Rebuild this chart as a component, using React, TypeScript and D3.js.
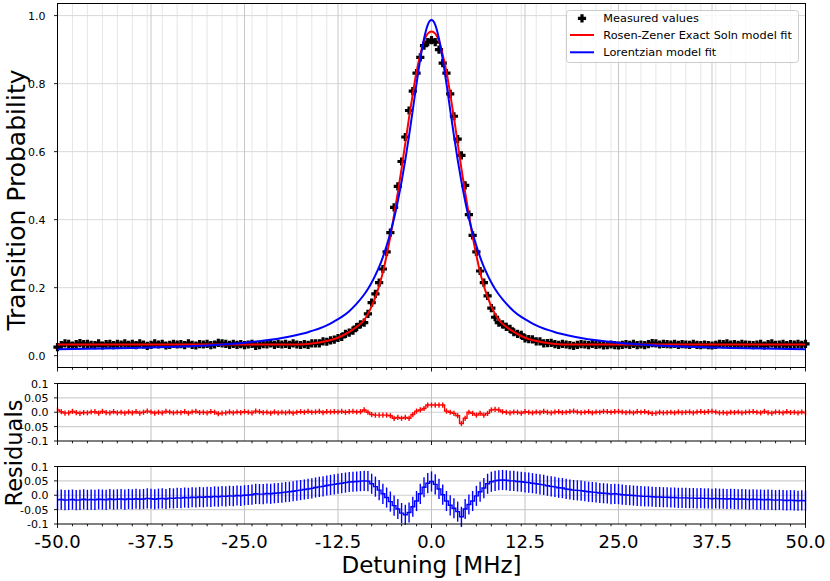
import React from 'react';
import * as d3 from 'd3';

// detuning grid of the measurement, 0.5 MHz steps from -50 to 50
const detuning = d3.range(-100, 101).map(i => i / 2);

// measured transition probability
const measured = [
  0.025, 0.031, 0.036, 0.035, 0.030, 0.034, 0.037, 0.034, 0.035, 0.032,
  0.031, 0.036, 0.030, 0.034, 0.035, 0.031, 0.035, 0.033, 0.036, 0.032,
  0.035, 0.031, 0.036, 0.033, 0.029, 0.032, 0.036, 0.033, 0.035, 0.030,
  0.032, 0.035, 0.033, 0.034, 0.031, 0.036, 0.032, 0.030, 0.034, 0.033,
  0.035, 0.031, 0.033, 0.038, 0.036, 0.035, 0.032, 0.035, 0.032, 0.034,
  0.031, 0.033, 0.035, 0.029, 0.031, 0.034, 0.033, 0.036, 0.032, 0.035,
  0.033, 0.035, 0.032, 0.036, 0.033, 0.0315, 0.034, 0.032, 0.036, 0.036,
  0.036, 0.042, 0.041, 0.045, 0.047, 0.052, 0.055, 0.064, 0.068, 0.074,
  0.084, 0.092, 0.097,
  0.123, 0.156, 0.182, 0.215, 0.255, 0.305, 0.362, 0.436, 0.498, 0.571,
  0.643, 0.721, 0.778, 0.831, 0.877, 0.912, 0.922, 0.928, 0.922, 0.900,
  0.860, 0.831, 0.770, 0.704, 0.637, 0.589, 0.501, 0.415, 0.354, 0.305,
  0.249, 0.215, 0.176, 0.140, 0.113, 0.097,
  0.092, 0.085, 0.079, 0.069, 0.064, 0.061, 0.051, 0.049, 0.048, 0.042,
  0.042, 0.036, 0.037, 0.038, 0.034, 0.032, 0.0345, 0.033, 0.031, 0.029,
  0.032, 0.034, 0.033, 0.031, 0.035, 0.032, 0.033, 0.030, 0.031, 0.033,
  0.031, 0.030, 0.032, 0.034, 0.032, 0.035, 0.031, 0.033, 0.031, 0.034,
  0.037, 0.036, 0.033, 0.035, 0.034, 0.033, 0.035, 0.032, 0.034, 0.033,
  0.032, 0.035, 0.032, 0.031, 0.033, 0.031, 0.030, 0.032, 0.035, 0.034,
  0.036, 0.033, 0.034, 0.032, 0.035, 0.033, 0.032, 0.031, 0.033, 0.035,
  0.030, 0.034, 0.036, 0.032, 0.033, 0.035, 0.031, 0.034, 0.033, 0.035,
  0.032, 0.035,
];

// residuals of the Rosen-Zener fit
const rzResidual = [
  0.008, 0.002, -0.003, -0.002, 0.003, -0.001, -0.004, -0.001, -0.002, 0.001,
  0.002, -0.003, 0.003, -0.001, -0.002, 0.002, -0.002, 0.000, -0.003, 0.001,
  -0.002, 0.002, -0.003, 0.000, 0.004, 0.001, -0.003, 0.000, -0.002, 0.003,
  0.001, -0.002, 0.000, -0.001, 0.002, -0.003, 0.001, 0.003, -0.001, 0.000,
  -0.002, 0.002, 0.000, -0.005, -0.003, -0.002, 0.001, -0.002, 0.001, -0.001,
  0.002, 0.000, -0.002, 0.004, 0.002, -0.001, 0.000, -0.003, 0.001, -0.002,
  0.000, -0.002, 0.001, -0.003, 0.000, 0.002, 0.000, 0.003, 0.000, 0.001,
  0.003, -0.001, 0.002, 0.001, 0.002, 0.001, 0.003, 0.000, 0.002, 0.003,
  0.001, 0.002, 0.008,
  0.000, -0.008, -0.010, -0.010, -0.010, -0.010, -0.012, -0.021, -0.018, -0.021,
  -0.018, -0.021, -0.008, 0.004, 0.008, 0.013, 0.025, 0.025, 0.025, 0.025,
  0.025, 0.004, 0.000, -0.004, -0.012, -0.039, -0.021, 0.000, -0.004, -0.010,
  -0.004, -0.010, -0.004, 0.008, 0.010, 0.008,
  0.002, 0.000, -0.002, 0.001, 0.000, -0.003, 0.002, 0.000, -0.002, 0.001,
  -0.001, 0.003, 0.000, -0.002, 0.001, 0.002, -0.001, 0.000, 0.002, 0.004,
  0.001, -0.001, 0.000, 0.002, -0.002, 0.001, 0.000, 0.003, 0.002, 0.000,
  0.002, 0.003, 0.001, -0.001, 0.001, -0.002, 0.002, 0.000, 0.002, -0.001,
  -0.004, -0.003, 0.000, -0.002, -0.001, 0.000, -0.002, 0.001, -0.001, 0.000,
  0.001, -0.002, 0.001, 0.002, 0.000, 0.002, 0.003, 0.001, -0.002, -0.001,
  -0.003, 0.000, -0.001, 0.001, -0.002, 0.000, 0.001, 0.002, 0.000, -0.002,
  0.003, -0.001, -0.003, 0.001, 0.000, -0.002, 0.002, -0.001, 0.000, -0.002,
  0.001, -0.002,
];

// residuals of the Lorentzian fit
const lorentzResidual = [
  -0.016, -0.015, -0.017, -0.016, -0.015, -0.017, -0.016, -0.014, -0.016, -0.015,
  -0.016, -0.014, -0.015, -0.016, -0.013, -0.015, -0.014, -0.013, -0.015, -0.013,
  -0.014, -0.012, -0.014, -0.013, -0.011, -0.012, -0.014, -0.012, -0.011, -0.013,
  -0.010, -0.011, -0.009, -0.010, -0.008, -0.009, -0.007, -0.008, -0.006, -0.007,
  -0.005, -0.006, -0.004, -0.005, -0.003, -0.004, -0.002, -0.003, -0.001, -0.002,
  0.000, 0.001, 0.002, 0.005, 0.004, 0.004, 0.006, 0.005, 0.007, 0.008,
  0.009, 0.011, 0.012, 0.014, 0.016, 0.018, 0.020, 0.022, 0.024, 0.027,
  0.029, 0.031, 0.034, 0.036, 0.038, 0.040, 0.042, 0.044, 0.046, 0.047,
  0.048, 0.049, 0.050,
  0.049, 0.040, 0.030, 0.018, 0.005, -0.008, -0.022, -0.036, -0.048, -0.062,
  -0.068, -0.060, -0.040, -0.020, 0.005, 0.028, 0.042, 0.048, 0.038, 0.022,
  0.002, -0.020, -0.035, -0.045, -0.057, -0.075, -0.048, -0.032, -0.020, -0.002,
  0.012, 0.025, 0.040, 0.047, 0.050, 0.052,
  0.053, 0.052, 0.050, 0.050, 0.048, 0.047, 0.045, 0.044, 0.042, 0.040,
  0.038, 0.036, 0.033, 0.031, 0.029, 0.026, 0.025, 0.022, 0.020, 0.018,
  0.017, 0.016, 0.014, 0.012, 0.011, 0.010, 0.008, 0.007, 0.006, 0.004,
  0.005, 0.004, 0.002, 0.001, 0.000, -0.001, -0.002, -0.003, -0.004, -0.004,
  -0.005, -0.006, -0.006, -0.007, -0.007, -0.008, -0.008, -0.009, -0.009, -0.009,
  -0.010, -0.010, -0.011, -0.010, -0.011, -0.011, -0.012, -0.011, -0.012, -0.012,
  -0.013, -0.012, -0.013, -0.014, -0.013, -0.014, -0.015, -0.014, -0.015, -0.015,
  -0.016, -0.015, -0.016, -0.017, -0.016, -0.017, -0.018, -0.017, -0.018, -0.019,
  -0.018, -0.019,
];

const rzError = 0.009;
const lorentzError = 0.035;

// fitted model curves, sampled where the curves were read
const fitDetuning = [
  -50, -40, -30, -25, -20, -18, -17, -16, -15, -14, -13, -12, -11, -10, -9, -8.5, -8,
  -7.5, -7, -6.5, -6, -5.5, -5, -4.5, -4, -3.5, -3, -2.5, -2, -1.5, -1, -0.5, 0,
  0.5, 1, 1.5, 2, 2.5, 3, 3.5, 4, 4.5, 5, 5.5, 6, 6.5, 7, 7.5,
  8, 8.5, 9, 10, 11, 12, 13, 14, 15, 16, 17, 18, 20, 25, 30, 40, 50,
];
const rzFit = [
  0.033, 0.033, 0.033, 0.033, 0.033, 0.033, 0.034, 0.036, 0.039, 0.043, 0.049, 0.058, 0.070, 0.085, 0.105, 0.123, 0.145,
  0.172, 0.205, 0.245, 0.295, 0.350, 0.415, 0.480, 0.550, 0.625, 0.700, 0.770, 0.835, 0.885, 0.925, 0.947, 0.953,
  0.947, 0.925, 0.885, 0.835, 0.770, 0.700, 0.625, 0.550, 0.480, 0.415, 0.350, 0.295, 0.245, 0.205, 0.172,
  0.145, 0.123, 0.105, 0.085, 0.070, 0.058, 0.049, 0.043, 0.039, 0.036, 0.034, 0.033, 0.033, 0.033, 0.033, 0.033, 0.033,
];
const lorentzFit = [
  0.019, 0.023, 0.030, 0.038, 0.052, 0.061, 0.066, 0.073, 0.080, 0.089, 0.101, 0.114, 0.131, 0.153, 0.180, 0.196, 0.215,
  0.237, 0.261, 0.290, 0.323, 0.361, 0.404, 0.455, 0.512, 0.576, 0.647, 0.723, 0.800, 0.872, 0.932, 0.973, 0.987,
  0.973, 0.932, 0.872, 0.800, 0.723, 0.647, 0.576, 0.512, 0.455, 0.404, 0.361, 0.323, 0.290, 0.261, 0.237,
  0.215, 0.196, 0.180, 0.153, 0.131, 0.114, 0.101, 0.089, 0.080, 0.073, 0.066, 0.061, 0.052, 0.038, 0.030, 0.023, 0.019,
];

const xTicks = [-50, -37.5, -25, -12.5, 0, 12.5, 25, 37.5, 50];
const xTickLabels = ['-50.0', '-37.5', '-25.0', '-12.5', '0.0', '12.5', '25.0', '37.5', '50.0'];
const probTicks = [0, 0.2, 0.4, 0.6, 0.8, 1.0];
const probTickLabels = ['0.0', '0.2', '0.4', '0.6', '0.8', '1.0'];
const residualTicks = [-0.1, -0.05, 0, 0.05, 0.1];
const residualTickLabels = ['-0.1', '-0.05', '0.0', '0.05', '0.1'];

const legendLabels = ['Measured values', 'Rosen-Zener Exact Soln model fit', 'Lorentzian model fit'];

const FONT = '"DejaVu Sans", sans-serif';
const RED = '#ff0000';
const BLUE = '#0000ff';

const plusPath = (cx: number, cy: number, s = 4.1, t = 1.6) =>
  `M${cx - t},${cy - s}H${cx + t}V${cy - t}H${cx + s}V${cy + t}H${cx + t}V${cy + s}` +
  `H${cx - t}V${cy + t}H${cx - s}V${cy - t}H${cx - t}Z`;

export default function App() {
  const left = 57.5;
  const right = 805.5;
  const mainBox = {top: 3.5, bottom: 367.5};
  const resBoxes = [{top: 383.5, bottom: 441}, {top: 466.5, bottom: 524}];

  const x = d3.scaleLinear().domain([-50, 50]).range([left, right]);
  const yMain = d3.scaleLinear().domain([-0.0347, 1.0356]).range([mainBox.bottom, mainBox.top]);
  const yRes = resBoxes.map(b => d3.scaleLinear().domain([-0.1, 0.1]).range([b.bottom, b.top]));

  const minorTicks = x.ticks(40);

  const fitLine = (vals: number[]) =>
    d3.line<number>()
      .x((_, i) => x(fitDetuning[i]))
      .y(d => yMain(d))
      .curve(d3.curveMonotoneX)(vals) || '';

  const residualPanels = [
    {vals: rzResidual, err: rzError, color: RED},
    {vals: lorentzResidual, err: lorentzError, color: BLUE},
  ];

  const bottomTicks = (bottom: number, key: string) => (
    <g key={key}>
      {minorTicks.map(t => (
        <line key={t} x1={x(t)} x2={x(t)} y1={bottom} y2={bottom + (xTicks.includes(t) ? 4 : 2.3)}
              stroke="#000" strokeWidth={0.9}/>
      ))}
    </g>
  );

  return (
    <svg width={830} height={581} style={{position: 'absolute', left: 0, top: 0, background: '#fff'}}
         fontFamily={FONT}>
      <rect x={0} y={0} width={830} height={581} fill="#fff"/>

      {/* main panel grid */}
      {minorTicks.filter(t => !xTicks.includes(t)).map(t => (
        <line key={'mg' + t} x1={x(t)} x2={x(t)} y1={mainBox.top} y2={mainBox.bottom} stroke="#e3e3e3" strokeWidth={0.9}/>
      ))}
      {probTicks.map(t => (
        <line key={'hg' + t} x1={left} x2={right} y1={yMain(t)} y2={yMain(t)} stroke="#d9d9d9" strokeWidth={1}/>
      ))}
      {xTicks.map(t => (
        <line key={'Mg' + t} x1={x(t)} x2={x(t)} y1={mainBox.top} y2={mainBox.bottom} stroke="#c8c8c8" strokeWidth={1}/>
      ))}

      {/* measured data */}
      <g fill="#000">
        {measured.map((v, i) => (
          <path key={i} d={plusPath(x(detuning[i]), yMain(v))}/>
        ))}
      </g>
      <path d={fitLine(rzFit)} fill="none" stroke={RED} strokeWidth={2}/>
      <path d={fitLine(lorentzFit)} fill="none" stroke={BLUE} strokeWidth={2}/>

      <rect x={left} y={mainBox.top} width={right - left} height={mainBox.bottom - mainBox.top}
            fill="none" stroke="#000" strokeWidth={1}/>
      {bottomTicks(mainBox.bottom, 'mt')}
      {probTicks.map((t, i) => (
        <g key={'pt' + t}>
          <line x1={left - 3.5} x2={left} y1={yMain(t)} y2={yMain(t)} stroke="#000" strokeWidth={0.9}/>
          <text x={45.5} y={yMain(t) + 4} textAnchor="end" fontSize={11} fill="#000">{probTickLabels[i]}</text>
        </g>
      ))}

      {/* legend */}
      <g>
        <rect x={566.5} y={10.5} width={232} height={52} rx={3} fill="#fff" fillOpacity={0.8} stroke="#cccccc"/>
        <path d={plusPath(582, 18.3)} fill="#000"/>
        <line x1={570} x2={594} y1={35} y2={35} stroke={RED} strokeWidth={2}/>
        <line x1={570} x2={594} y1={52.3} y2={52.3} stroke={BLUE} strokeWidth={2}/>
        {legendLabels.map((l, i) => (
          <text key={l} x={603.3} y={18.3 + i * 17 + 4} fontSize={11.3} fill="#000">{l}</text>
        ))}
      </g>

      {/* residual panels */}
      {residualPanels.map((p, k) => {
        const b = resBoxes[k];
        const y = yRes[k];
        const step = d3.line<number>()
          .x((_, i) => x(detuning[i]))
          .y(d => y(d))
          .curve(d3.curveStep)(p.vals) || '';
        return (
          <g key={'res' + k}>
            {[-0.05, 0, 0.05].map(t => (
              <line key={t} x1={left} x2={right} y1={y(t)} y2={y(t)} stroke="#cfcfcf" strokeWidth={1.1}/>
            ))}
            {xTicks.map(t => (
              <line key={'v' + t} x1={x(t)} x2={x(t)} y1={b.top} y2={b.bottom} stroke="#c2c2c2" strokeWidth={1}/>
            ))}
            <g stroke={p.color} strokeWidth={1.4}>
              {p.vals.map((v, i) => (
                <line key={i} x1={x(detuning[i])} x2={x(detuning[i])} y1={y(v - p.err)} y2={y(v + p.err)}/>
              ))}
            </g>
            <path d={step} fill="none" stroke={p.color} strokeWidth={1.4}/>
            <rect x={left} y={b.top} width={right - left} height={b.bottom - b.top} fill="none" stroke="#000" strokeWidth={1}/>
            {bottomTicks(b.bottom, 'rt' + k)}
            {residualTicks.map((t, i) => (
              <g key={'ry' + t}>
                <line x1={left - 3.5} x2={left} y1={y(t)} y2={y(t)} stroke="#000" strokeWidth={0.9}/>
                <text x={48.5} y={y(t) + 4} textAnchor="end" fontSize={11} fill="#000">{residualTickLabels[i]}</text>
              </g>
            ))}
          </g>
        );
      })}

      {/* x tick labels on the bottom panel */}
      {xTicks.map((t, i) => (
        <text key={'xl' + t} x={x(t)} y={547.5} textAnchor="middle" fontSize={18} fill="#000">{xTickLabels[i]}</text>
      ))}

      {/* axis titles */}
      <text x={431.5} y={573} textAnchor="middle" fontSize={23} fill="#000">Detuning [MHz]</text>
      <text transform="translate(25,200) rotate(-90)" textAnchor="middle" fontSize={25} fill="#000">Transition Probability</text>
      <text transform="translate(21.5,453) rotate(-90)" textAnchor="middle" fontSize={22.5} fill="#000">Residuals</text>
    </svg>
  );
}
